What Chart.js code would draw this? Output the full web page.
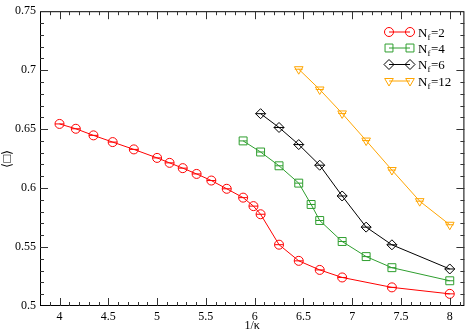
<!DOCTYPE html>
<html>
<head>
<meta charset="utf-8">
<script src="https://cdn.jsdelivr.net/npm/chart.js@4/dist/chart.umd.min.js"></script>
<style>
  html, body { margin: 0; padding: 0; background: #fff; }
  #wrap { width: 471px; height: 333px; }
</style>
</head>
<body>
<div id="wrap"><canvas id="plot" width="471" height="333"></canvas></div>
<script>
// 1/kappa values and plaquette averages
const nf2X = [4, 4.167, 4.348, 4.545, 4.762, 5.0, 5.128, 5.263, 5.405, 5.556, 5.714, 5.882, 5.988, 6.061, 6.25, 6.452, 6.667, 6.897, 7.407, 8.0];
const nf2Y = [0.6544, 0.6503, 0.6447, 0.639, 0.6328, 0.6256, 0.6214, 0.6169, 0.612, 0.6064, 0.5994, 0.5919, 0.5847, 0.5778, 0.552, 0.5383, 0.5306, 0.5242, 0.5158, 0.5103];

const nf4X = [5.882, 6.061, 6.25, 6.452, 6.579, 6.667, 6.897, 7.143, 7.407, 8.0];
const nf4Y = [0.640, 0.6306, 0.6189, 0.6042, 0.5861, 0.5725, 0.5547, 0.5419, 0.5325, 0.5214];

const nf6X = [6.061, 6.25, 6.452, 6.667, 6.897, 7.143, 7.407, 8.0];
const nf6Y = [0.6631, 0.6514, 0.6369, 0.6194, 0.5933, 0.5669, 0.5519, 0.5314];

const nf12X = [6.452, 6.667, 6.897, 7.143, 7.407, 7.692, 8.0];
const nf12Y = [0.7008, 0.6836, 0.6633, 0.6403, 0.6153, 0.5889, 0.5689];

const legendLabels = ['2', '4', '6', '12'];
const xTicks = [4, 4.5, 5, 5.5, 6, 6.5, 7, 7.5, 8];
const yTicks = [0.5, 0.55, 0.6, 0.65, 0.7, 0.75];

const FONT = '"Liberation Serif", "Times New Roman", serif';

const series = [
    { x: nf2X, y: nf2Y, color: '#ff0000', style: 'circle', r: 4.5, rot: 0 },
    { x: nf4X, y: nf4Y, color: '#2e9e2e', style: 'rect', r: 5.6, rot: 0 },
    { x: nf6X, y: nf6Y, color: '#000000', style: 'rectRot', r: 5, rot: 0 },
    { x: nf12X, y: nf12Y, color: '#ffa500', style: 'triangle', r: 5, rot: 180 }
];

function toPoints(xs, ys) {
    return xs.map((v, i) => ({ x: v, y: ys[i] }));
}

// small marker drawer used by the legend
function marker(ctx, s, x, y) {
    ctx.save();
    ctx.strokeStyle = s.color;
    ctx.lineWidth = 1;
    ctx.beginPath();
    if (s.style === 'circle') {
        ctx.arc(x, y, s.r, 0, Math.PI * 2);
    } else if (s.style === 'rect') {
        const h = s.r * Math.SQRT1_2;
        ctx.rect(x - h, y - h, 2 * h, 2 * h);
    } else if (s.style === 'rectRot') {
        ctx.moveTo(x - s.r, y); ctx.lineTo(x, y - s.r);
        ctx.lineTo(x + s.r, y); ctx.lineTo(x, y + s.r); ctx.closePath();
    } else {
        const w = s.r * 0.866;
        ctx.moveTo(x - w, y - s.r * 0.5);
        ctx.lineTo(x + w, y - s.r * 0.5);
        ctx.lineTo(x, y + s.r);
        ctx.closePath();
    }
    ctx.stroke();
    ctx.restore();
}

const framePlugin = {
    id: 'frame',
    afterDatasetsDraw(chart) {
        const ctx = chart.ctx;
        // error-bar dashes through each marker
        chart.data.datasets.forEach((ds, di) => {
            const meta = chart.getDatasetMeta(di);
            const s = series[di];
            const half = s.style === 'rect' ? s.r * Math.SQRT1_2 : (s.style === 'triangle' ? s.r * 0.8 : s.r);
            ctx.save();
            ctx.strokeStyle = s.color;
            ctx.lineWidth = 1;
            meta.data.forEach(p => {
                ctx.beginPath();
                ctx.moveTo(p.x - half, p.y);
                ctx.lineTo(p.x + half, p.y);
                ctx.stroke();
            });
            ctx.restore();
        });
    },
    afterDraw(chart) {
        const ctx = chart.ctx;
        const a = chart.chartArea;
        const xs = chart.scales.x, ys = chart.scales.y;
        ctx.save();
        ctx.strokeStyle = '#000';
        ctx.lineWidth = 1;
        ctx.strokeRect(a.left + 0.5, a.top + 0.5, a.right - a.left - 1, a.bottom - a.top - 1);

        // inward ticks on all four sides
        ctx.strokeStyle = '#333';
        for (let i = 38; i <= 81; i++) {
            const v = i / 10;
            const px = Math.round(xs.getPixelForValue(v)) + 0.5;
            if (px < a.left + 1 || px > a.right - 1) continue;
            const len = (i % 5 === 0) ? 8 : 4;
            ctx.beginPath();
            ctx.moveTo(px, a.bottom); ctx.lineTo(px, a.bottom - len);
            ctx.moveTo(px, a.top); ctx.lineTo(px, a.top + len);
            ctx.stroke();
        }
        for (let i = 50; i <= 75; i++) {
            const v = i / 100;
            const py = Math.round(ys.getPixelForValue(v)) + 0.5;
            if (py < a.top + 1 || py > a.bottom - 1) continue;
            const len = (i % 5 === 0) ? 8 : 4;
            ctx.beginPath();
            ctx.moveTo(a.left, py); ctx.lineTo(a.left + len, py);
            ctx.moveTo(a.right, py); ctx.lineTo(a.right - len, py);
            ctx.stroke();
        }

        // legend, top right
        const rowY = [32, 48, 64.5, 81];
        series.forEach((s, i) => {
            const y = rowY[i];
            ctx.strokeStyle = s.color;
            ctx.lineWidth = 1;
            ctx.beginPath();
            ctx.moveTo(389, y); ctx.lineTo(410, y);
            ctx.stroke();
            marker(ctx, s, 389, y);
            marker(ctx, s, 410, y);
            ctx.fillStyle = '#000';
            ctx.textBaseline = 'alphabetic';
            ctx.textAlign = 'left';
            ctx.font = '13px ' + FONT;
            let tx = 418;
            ctx.fillText('N', tx, y + 4.5);
            tx += ctx.measureText('N').width;
            ctx.font = '9px ' + FONT;
            ctx.fillText('f', tx, y + 7.5);
            tx += ctx.measureText('f').width + 0.5;
            ctx.font = '13px ' + FONT;
            ctx.fillText('=' + legendLabels[i], tx, y + 4.5);
        });
        ctx.restore();
    }
};

new Chart(document.getElementById('plot'), {
    type: 'line',
    data: {
        datasets: series.map((s, i) => ({
            label: 'Nf=' + legendLabels[i],
            data: toPoints(s.x, s.y),
            borderColor: s.color,
            backgroundColor: 'rgba(0,0,0,0)',
            borderWidth: 1,
            pointStyle: s.style,
            pointRadius: s.r,
            pointRotation: s.rot,
            pointBorderWidth: 1,
            pointBorderColor: s.color,
            pointBackgroundColor: 'rgba(0,0,0,0)',
            tension: 0
        }))
    },
    options: {
        responsive: false,
        animation: false,
        layout: { padding: { top: 6, right: 6, left: 0, bottom: 0 } },
        plugins: { legend: { display: false }, tooltip: { enabled: false } },
        scales: {
            x: {
                type: 'linear', min: 3.8, max: 8.15,
                afterBuildTicks: axis => { axis.ticks = xTicks.map(v => ({ value: v })); },
                afterFit: scale => { scale.height = 27; },
                grid: { display: false, drawTicks: false },
                border: { display: false },
                ticks: { color: '#000', font: { family: FONT, size: 12 }, padding: 4, maxRotation: 0, autoSkip: false,
                         callback: v => String(v) },
                title: { display: true, text: '1/κ', color: '#000', font: { family: FONT, size: 12 }, padding: { top: 0, bottom: 0 } }
            },
            y: {
                type: 'linear', min: 0.5, max: 0.75,
                afterBuildTicks: axis => { axis.ticks = yTicks.map(v => ({ value: v })); },
                afterFit: scale => { scale.width = 40; },
                grid: { display: false, drawTicks: false },
                border: { display: false },
                ticks: { color: '#000', font: { family: FONT, size: 12 }, padding: 4, autoSkip: false,
                         callback: v => String(v) },
                title: { display: true, text: '⟨□⟩', color: '#000', font: { family: FONT, size: 13 }, padding: { top: 0, bottom: 0 } }
            }
        }
    },
    plugins: [framePlugin]
});
</script>
</body>
</html>
